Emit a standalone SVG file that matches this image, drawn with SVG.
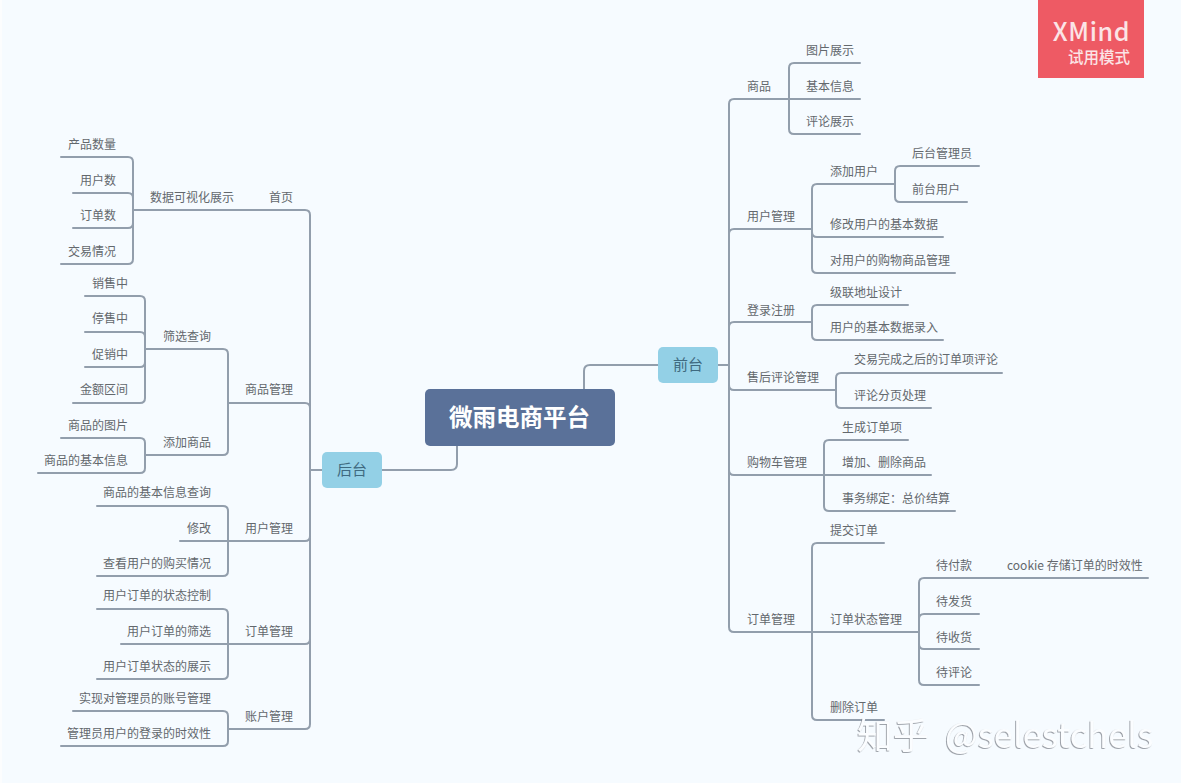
<svg xmlns="http://www.w3.org/2000/svg" width="1181" height="783" viewBox="0 0 1181 783">
<defs><filter id="emboss" x="-5%" y="-20%" width="110%" height="140%"><feDropShadow dx="-0.8" dy="0.8" stdDeviation="0.5" flood-color="#7d828a" flood-opacity=".9"/></filter></defs>
<style>
.c{fill:none;stroke:#929eac;stroke-width:2;stroke-linecap:round;stroke-linejoin:round}
text{font-family:"Noto Sans CJK SC","Noto Sans",sans-serif}
.t{font-size:12px;fill:#63686d}
.e{text-anchor:end}
.m{font-size:15px;fill:#3f6a80;text-anchor:middle}
.r{fill:#5a7199}
.b{fill:#93d0e6}
.w{fill:#fbfdff;filter:url(#emboss)}
.x{fill:#fbe4e6;text-anchor:end;font-weight:500}
</style>
<rect width="1181" height="783" fill="#f6fbff"/>
<rect width="2" height="783" fill="#fcfdfe"/>
<g id="connectors" class="c">
<path d="M584 389V371Q584 365 590 365H658"/>
<path d="M718 365H729"/>
<path d="M457 446V464Q457 470 451 470H382"/>
<path d="M322 470H310"/>
<path d="M270 210H305Q310 210 310 215V724Q310 729 305 729H228"/>
<path d="M228 403H305Q310 403 310 408"/>
<path d="M180 541H305Q310 541 310 536"/>
<path d="M121 644H305Q310 644 310 639"/>
<path d="M133 210H270"/>
<path d="M61 157H128Q133 157 133 162V259Q133 264 128 264H61"/>
<path d="M73 193H128Q133 193 133 198"/>
<path d="M73 228H128Q133 228 133 223"/>
<path d="M145 349H223Q228 349 228 354V450Q228 455 223 455H145"/>
<path d="M85 296H140Q145 296 145 301V398Q145 403 140 403H73"/>
<path d="M85 332H140Q145 332 145 337"/>
<path d="M85 367H140Q145 367 145 362"/>
<path d="M61 438H140Q145 438 145 443V468Q145 473 140 473H38"/>
<path d="M97 506H223Q228 506 228 511V571Q228 576 223 576H97"/>
<path d="M97 609H223Q228 609 228 614V674Q228 679 223 679H97"/>
<path d="M73 711H223Q228 711 228 716V741Q228 746 223 746H61"/>
<path d="M789 99H734Q729 99 729 104V627Q729 632 734 632H812"/>
<path d="M812 229H734Q729 229 729 234"/>
<path d="M812 322H734Q729 322 729 327"/>
<path d="M836 390H734Q729 390 729 385"/>
<path d="M824 475H734Q729 475 729 470"/>
<path d="M860 63H794Q789 63 789 68V129Q789 134 794 134H860"/>
<path d="M789 99H860"/>
<path d="M895 184H817Q812 184 812 189V268Q812 273 817 273H955"/>
<path d="M812 232Q812 237 817 237H943"/>
<path d="M979 166H900Q895 166 895 171V197Q895 202 900 202H967"/>
<path d="M908 305H817Q812 305 812 310V335Q812 340 817 340H943"/>
<path d="M1002 373H841Q836 373 836 378V403Q836 408 841 408H931"/>
<path d="M908 440H829Q824 440 824 445V506Q824 511 829 511H955"/>
<path d="M824 475H931"/>
<path d="M884 543H817Q812 543 812 548V715Q812 720 817 720H884"/>
<path d="M812 632H919"/>
<path d="M1148 578H924Q919 578 919 583V680Q919 685 924 685H979"/>
<path d="M979 614H924Q919 614 919 619"/>
<path d="M979 649H924Q919 649 919 644"/>
</g>
<g id="root"><rect class="r" x="425" y="389" width="190" height="57" rx="5"/><text x="519.500" y="426" font-size="23.500" font-weight="700" fill="#fff" text-anchor="middle">微雨电商平台</text></g>
<g id="front"><rect class="b" x="658" y="347" width="60" height="36" rx="5"/><text class="m" x="688" y="370">前台</text></g>
<g id="back"><rect class="b" x="322" y="452" width="60" height="36" rx="5"/><text class="m" x="352" y="475">后台</text></g>
<g id="back-items" class="t" transform="translate(0 .5)">
<g id="b1"><text class="e" x="293" y="201.500">首页</text></g>
<g id="b2"><text class="e" x="234" y="201.500">数据可视化展示</text></g>
<g id="b3"><text class="e" x="116" y="148.500">产品数量</text></g>
<g id="b4"><text class="e" x="116" y="184">用户数</text></g>
<g id="b5"><text class="e" x="116" y="219.500">订单数</text></g>
<g id="b6"><text class="e" x="116" y="255">交易情况</text></g>
<g id="b7"><text class="e" x="293" y="393.500">商品管理</text></g>
<g id="b8"><text class="e" x="211" y="340">筛选查询</text></g>
<g id="b9"><text class="e" x="128" y="287">销售中</text></g>
<g id="b10"><text class="e" x="128" y="322.500">停售中</text></g>
<g id="b11"><text class="e" x="128" y="358">促销中</text></g>
<g id="b12"><text class="e" x="128" y="393.500">金额区间</text></g>
<g id="b13"><text class="e" x="211" y="446">添加商品</text></g>
<g id="b14"><text class="e" x="128" y="429">商品的图片</text></g>
<g id="b15"><text class="e" x="128" y="464">商品的基本信息</text></g>
<g id="b16"><text class="e" x="293" y="532">用户管理</text></g>
<g id="b17"><text class="e" x="211" y="496.500">商品的基本信息查询</text></g>
<g id="b18"><text class="e" x="211" y="532">修改</text></g>
<g id="b19"><text class="e" x="211" y="567">查看用户的购买情况</text></g>
<g id="b20"><text class="e" x="293" y="635">订单管理</text></g>
<g id="b21"><text class="e" x="211" y="599.500">用户订单的状态控制</text></g>
<g id="b22"><text class="e" x="211" y="635">用户订单的筛选</text></g>
<g id="b23"><text class="e" x="211" y="670">用户订单状态的展示</text></g>
<g id="b24"><text class="e" x="293" y="720">账户管理</text></g>
<g id="b25"><text class="e" x="211" y="702">实现对管理员的账号管理</text></g>
<g id="b26"><text class="e" x="211" y="737.500">管理员用户的登录的时效性</text></g>
</g>
<g id="front-items" class="t" transform="translate(0 .5)">
<g id="f1"><text x="747" y="90">商品</text></g>
<g id="f2"><text x="806" y="54">图片展示</text></g>
<g id="f3"><text x="806" y="90">基本信息</text></g>
<g id="f4"><text x="806" y="125">评论展示</text></g>
<g id="f5"><text x="747" y="220">用户管理</text></g>
<g id="f6"><text x="830" y="175">添加用户</text></g>
<g id="f7"><text x="912" y="157">后台管理员</text></g>
<g id="f8"><text x="912" y="193">前台用户</text></g>
<g id="f9"><text x="830" y="228">修改用户的基本数据</text></g>
<g id="f10"><text x="830" y="264">对用户的购物商品管理</text></g>
<g id="f11"><text x="747" y="314">登录注册</text></g>
<g id="f12"><text x="830" y="296">级联地址设计</text></g>
<g id="f13"><text x="830" y="331">用户的基本数据录入</text></g>
<g id="f14"><text x="747" y="381">售后评论管理</text></g>
<g id="f15"><text x="854" y="363">交易完成之后的订单项评论</text></g>
<g id="f16"><text x="854" y="399">评论分页处理</text></g>
<g id="f17"><text x="747" y="466">购物车管理</text></g>
<g id="f18"><text x="842" y="431">生成订单项</text></g>
<g id="f19"><text x="842" y="466">增加、删除商品</text></g>
<g id="f20"><text x="842" y="502">事务绑定：总价结算</text></g>
<g id="f21"><text x="747" y="623">订单管理</text></g>
<g id="f22"><text x="830" y="534">提交订单</text></g>
<g id="f23"><text x="830" y="623">订单状态管理</text></g>
<g id="f24"><text x="936" y="569">待付款</text></g>
<g id="f25"><text x="1007" y="569">cookie 存储订单的时效性</text></g>
<g id="f26"><text x="936" y="605">待发货</text></g>
<g id="f27"><text x="936" y="641">待收货</text></g>
<g id="f28"><text x="936" y="676">待评论</text></g>
<g id="f29"><text x="830" y="711">删除订单</text></g>
</g>
<g id="badge"><rect x="1038" y="0" width="106" height="78" fill="#ee5a64"/><text class="x" x="1130" y="41" font-size="25" letter-spacing=".6">XMind</text><text class="x" x="1130" y="63" font-size="15.500">试用模式</text></g>
<g id="watermark"><text class="w" x="857" y="749" font-size="36">知乎</text><text class="w" x="945" y="748" font-size="34.500">@selestchels</text></g>
</svg>
